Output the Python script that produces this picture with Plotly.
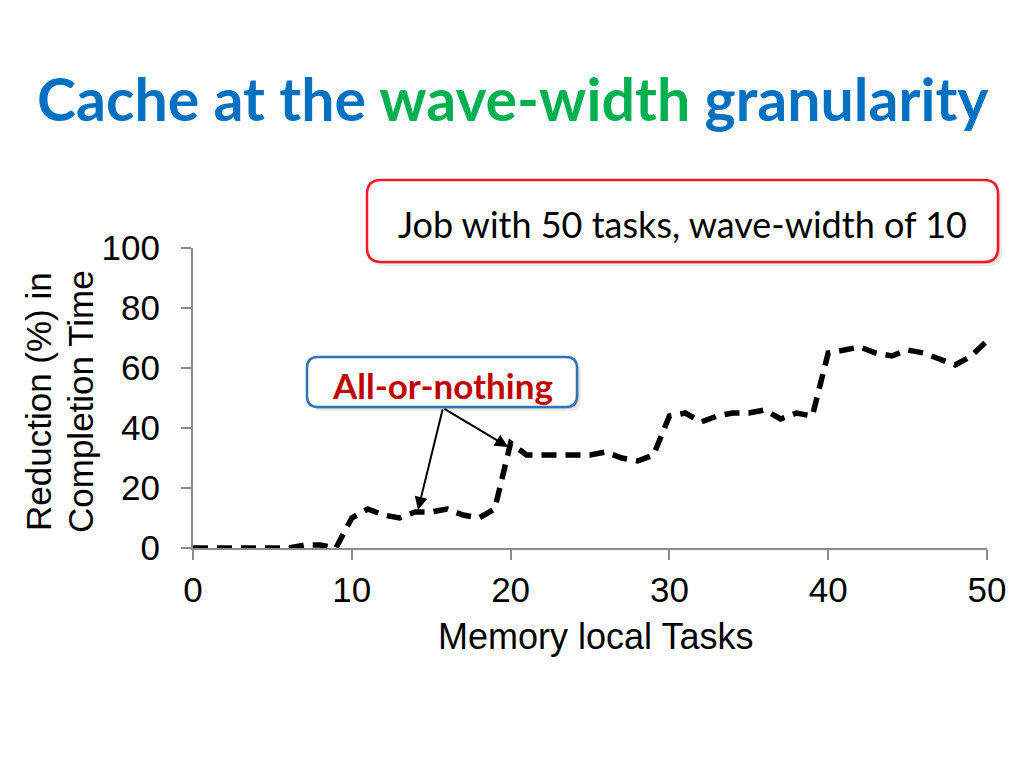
import plotly.graph_objects as go

# ---- data ----
tasks = list(range(0, 51))
reduction = [0, 0, 0, 0, 0, 0, 0, 1, 1, 0,
             10, 13, 11, 10, 12, 12, 13, 11, 10, 13,
             35, 31, 31, 31, 31, 31, 32, 30, 29, 31,
             44, 45, 42, 44, 45, 45, 46, 43, 45, 44,
             65, 66, 67, 65, 64, 66, 65, 63, 61, 64,
             69]
x_ticks = [0, 10, 20, 30, 40, 50]
y_ticks = [0, 20, 40, 60, 80, 100]

title_parts = [("Cache at the ", "#0070C0"), ("wave-width", "#00B050"), (" granularity", "#0070C0")]
box1_text = "Job with 50 tasks, wave-width of 10"
box2_text = "All-or-nothing"
x_title = "Memory local Tasks"
y_title_lines = ["Reduction (%) in", "Completion Time"]

OFF = 8  # browser body margin
W, H = 1024 - OFF, 768 - OFF
X0, X1, Y0, Y1 = 193, 987, 548, 248  # reference pixel positions of plot area
L, R, T, B = X0 - OFF, W - (X1 - OFF), Y1 - OFF, H - (Y0 - OFF)
PW, PH = W - L - R, H - T - B


def px2paper(X, Y):
    return (X - OFF - L) / PW, (H - B - (Y - OFF)) / PH


def rounded_rect(x0, y0, x1, y1, r):
    def p(X, Y):
        a, b = px2paper(X, Y)
        return f"{a:.5f},{b:.5f}"
    return (f"M {p(x0 + r, y0)} L {p(x1 - r, y0)} Q {p(x1, y0)} {p(x1, y0 + r)} "
            f"L {p(x1, y1 - r)} Q {p(x1, y1)} {p(x1 - r, y1)} "
            f"L {p(x0 + r, y1)} Q {p(x0, y1)} {p(x0, y1 - r)} "
            f"L {p(x0, y0 + r)} Q {p(x0, y0)} {p(x0 + r, y0)} Z")


fig = go.Figure()
fig.add_trace(go.Scatter(
    x=tasks, y=reduction, mode="lines",
    line=dict(color="black", width=5.5, dash="15px,9px"),
    cliponaxis=False, showlegend=False, hoverinfo="skip"))

shapes = []
for d in (4, 2):
    a = 0.08 if d == 4 else 0.12
    for (x0, y0, x1, y1, r) in [(367, 180, 998, 262, 14), (307, 357, 577, 407, 11)]:
        shapes.append(dict(type="path", path=rounded_rect(x0 + d, y0 + d, x1 + d, y1 + d, r),
                           xref="paper", yref="paper",
                           fillcolor=f"rgba(0,0,0,{a})", line=dict(width=0), layer="below"))
shapes.append(dict(type="path", path=rounded_rect(367, 180, 998, 262, 14), xref="paper", yref="paper",
                   fillcolor="white", line=dict(color="#EE1C25", width=2.5)))
shapes.append(dict(type="path", path=rounded_rect(307, 357, 577, 407, 11), xref="paper", yref="paper",
                   fillcolor="white", line=dict(color="#2E75B6", width=2.5)))

annotations = []
title_html = "".join(f"<span style='color:{c}'>{t}</span>" for t, c in title_parts)
tx, ty = px2paper(513, 98)
annotations.append(dict(text=f"<b>{title_html}</b>", x=tx, y=ty, xref="paper", yref="paper",
                        showarrow=False, xanchor="center", yanchor="middle",
                        font=dict(family="Lato", size=59)))
bx, by = px2paper(682, 224)
annotations.append(dict(text=box1_text, x=bx, y=by, xref="paper", yref="paper", showarrow=False,
                        xanchor="center", yanchor="middle", font=dict(family="Lato", size=36, color="black")))
bx, by = px2paper(442, 385)
annotations.append(dict(text=f"<b>{box2_text}</b>", x=bx, y=by, xref="paper", yref="paper", showarrow=False,
                        xanchor="center", yanchor="middle", font=dict(family="Lato", size=35, color="#C00000")))

# arrows
tail_x, tail_y = 15.74, 46.7
for hx, hy in [(14.17, 12.7), (19.84, 33.7)]:
    annotations.append(dict(text="", x=hx, y=hy, ax=tail_x, ay=tail_y, xref="x", yref="y",
                            axref="x", ayref="y", showarrow=True, arrowhead=2, arrowsize=1.3,
                            arrowwidth=2, arrowcolor="black", standoff=0))

axis_font = dict(family="Liberation Sans, Arial", size=35, color="black")
ax_, ay_ = px2paper(595, 636)
annotations.append(dict(text=x_title, x=ax_, y=ay_, xref="paper", yref="paper", showarrow=False,
                        xanchor="center", yanchor="middle", font=dict(axis_font, size=36)))
for line, cx in zip(y_title_lines, (38, 80)):
    ax_, ay_ = px2paper(cx, 402)
    annotations.append(dict(text=line, x=ax_, y=ay_, xref="paper", yref="paper", showarrow=False,
                            textangle=-90, xanchor="center", yanchor="middle", font=axis_font))

fig.update_layout(
    width=W, height=H, margin=dict(l=L, r=R, t=T, b=B),
    paper_bgcolor="white", plot_bgcolor="white",
    shapes=shapes, annotations=annotations, showlegend=False,
    xaxis=dict(range=[0, 50], tickvals=x_ticks, ticktext=[str(v) for v in x_ticks],
               showgrid=False, zeroline=False, showline=True, linecolor="#8c8c8c", linewidth=2,
               ticks="outside", ticklen=10, tickwidth=2, tickcolor="#8c8c8c",
               tickfont=axis_font, ticklabelstandoff=0),
    yaxis=dict(range=[0, 100], tickvals=y_ticks, ticktext=[str(v) for v in y_ticks],
               showgrid=False, zeroline=False, showline=True, linecolor="#8c8c8c", linewidth=2,
               ticks="outside", ticklen=10, tickwidth=2, tickcolor="#8c8c8c",
               tickfont=axis_font, ticklabelstandoff=14),
)

fig.write_html("out.html")
